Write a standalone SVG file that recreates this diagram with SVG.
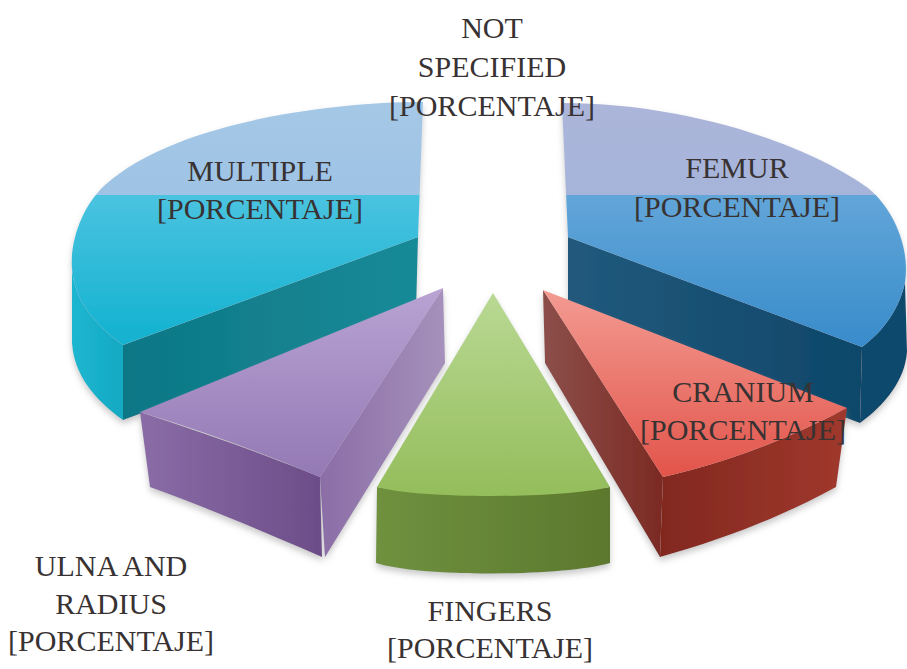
<svg xmlns="http://www.w3.org/2000/svg" width="907" height="669" viewBox="0 0 907 669">
<style>
.lbl{font-family:"Liberation Serif","Times New Roman",serif;font-size:30px;fill:#383232;text-anchor:middle}
</style>
<defs>
<filter id="sh" x="-10%" y="-10%" width="120%" height="130%">
<feDropShadow dx="0" dy="4" stdDeviation="3" flood-color="#8a8a8a" flood-opacity="0.45"/>
</filter>
<linearGradient id="gMultTop" gradientUnits="userSpaceOnUse" x1="0" y1="100" x2="0" y2="350">
<stop offset="0" stop-color="#a6c8e7"/><stop offset="0.38" stop-color="#9ec3e4"/>
<stop offset="0.38" stop-color="#4ac3e0"/><stop offset="1" stop-color="#0fb1cf"/>
</linearGradient>
<linearGradient id="gMultSide" x1="0" y1="0" x2="1" y2="0">
<stop offset="0" stop-color="#1eb6d0"/><stop offset="1" stop-color="#14a9c3"/>
</linearGradient>
<linearGradient id="gMultFront" x1="0" y1="0" x2="1" y2="0">
<stop offset="0" stop-color="#0e7786"/><stop offset="1" stop-color="#178a98"/>
</linearGradient>
<linearGradient id="gFemTop" gradientUnits="userSpaceOnUse" x1="0" y1="100" x2="0" y2="350">
<stop offset="0" stop-color="#acb5da"/><stop offset="0.38" stop-color="#a6b4da"/>
<stop offset="0.38" stop-color="#62a6d9"/><stop offset="1" stop-color="#378bca"/>
</linearGradient>
<linearGradient id="gFemFront" x1="0" y1="0" x2="1" y2="0">
<stop offset="0" stop-color="#21597c"/><stop offset="1" stop-color="#0e4769"/>
</linearGradient>
<linearGradient id="gCraTop" x1="0" y1="0" x2="0" y2="1">
<stop offset="0" stop-color="#f39b92"/><stop offset="1" stop-color="#e2544a"/>
</linearGradient>
<linearGradient id="gCraIn" x1="0" y1="0" x2="1" y2="0">
<stop offset="0" stop-color="#8c4f4a"/><stop offset="1" stop-color="#7b2a23"/>
</linearGradient>
<linearGradient id="gCraFront" x1="0" y1="0" x2="1" y2="0">
<stop offset="0" stop-color="#82281f"/><stop offset="1" stop-color="#a0382d"/>
</linearGradient>
<linearGradient id="gFinTop" x1="0" y1="0" x2="0" y2="1">
<stop offset="0" stop-color="#b9d994"/><stop offset="1" stop-color="#94bd5b"/>
</linearGradient>
<linearGradient id="gFinFront" x1="0" y1="0" x2="1" y2="0">
<stop offset="0" stop-color="#6f913f"/><stop offset="1" stop-color="#5c782d"/>
</linearGradient>
<linearGradient id="gUlnTop" x1="0" y1="0" x2="0" y2="1">
<stop offset="0" stop-color="#b8a3d3"/><stop offset="1" stop-color="#9479b4"/>
</linearGradient>
<linearGradient id="gUlnIn" x1="0" y1="0" x2="1" y2="0">
<stop offset="0" stop-color="#8b6da6"/><stop offset="1" stop-color="#a591bb"/>
</linearGradient>
<linearGradient id="gUlnFront" x1="0" y1="0" x2="1" y2="0">
<stop offset="0" stop-color="#8a6ca6"/><stop offset="1" stop-color="#6c4d88"/>
</linearGradient>
</defs>

<g id="multiple">
<g filter="url(#sh)">
<path d="M72,268 C74,300 95,325 123,345 L123,420 C95,400 74,375 72,343 Z" fill="url(#gMultSide)"/>
<path d="M123,345 L418,237 L416,312 L123,420 Z" fill="url(#gMultFront)"/>
<path d="M423,102 C330,102 175,122 105,185 C80,208 70,245 72,268 C74,300 95,325 123,345 L418,237 Z" fill="url(#gMultTop)"/>
</g>
<text class="lbl" x="260" y="181">MULTIPLE</text>
<text class="lbl" x="260" y="219">[PORCENTAJE]</text>
</g>

<g id="femur">
<g filter="url(#sh)">
<path d="M905,282 C900,307 885,330 862,347 L860,423 C885,405 905,380 907,352 Z" fill="#0f4a6c"/>
<path d="M568,237 L862,347 L860,423 L568,313 Z" fill="url(#gFemFront)"/>
<path d="M562,103 C680,103 800,140 868,188 C895,210 910,250 905,282 C900,307 885,330 862,347 L568,237 Z" fill="url(#gFemTop)"/>
</g>
<text class="lbl" x="737" y="178">FEMUR</text>
<text class="lbl" x="737" y="217">[PORCENTAJE]</text>
</g>

<g id="not-specified">
<text class="lbl" x="492" y="38">NOT</text>
<text class="lbl" x="492" y="77">SPECIFIED</text>
<text class="lbl" x="492" y="116">[PORCENTAJE]</text>
</g>

<g id="ulna-radius">
<g filter="url(#sh)">
<path d="M443,288 L445,363 L325,557 L320,477 Z" fill="url(#gUlnIn)"/>
<path d="M140,412 C200,432 260,452 320,477 L322,557 C260,530 200,505 150,487 Z" fill="url(#gUlnFront)"/>
<path d="M443,288 L140,412 C200,430 260,452 320,477 Z" fill="url(#gUlnTop)"/>
</g>
<text class="lbl" x="111" y="576">ULNA AND</text>
<text class="lbl" x="111" y="614">RADIUS</text>
<text class="lbl" x="111" y="651">[PORCENTAJE]</text>
</g>

<g id="fingers">
<g filter="url(#sh)">
<path d="M377,487 C420,495 560,495 610,487 L610,563 C560,577 420,577 376,563 Z" fill="url(#gFinFront)"/>
<path d="M493,293 L377,487 C420,499 560,499 610,487 Z" fill="url(#gFinTop)"/>
</g>
<text class="lbl" x="490" y="621">FINGERS</text>
<text class="lbl" x="490" y="658">[PORCENTAJE]</text>
</g>

<g id="cranium">
<g filter="url(#sh)">
<path d="M543,290 L663,477 L660,557 L545,363 Z" fill="url(#gCraIn)"/>
<path d="M663,477 C730,462 790,438 847,408 L836,487 C780,518 720,540 660,557 Z" fill="url(#gCraFront)"/>
<path d="M543,290 L847,408 C790,438 730,462 663,477 Z" fill="url(#gCraTop)"/>
</g>
<text class="lbl" x="743" y="402">CRANIUM</text>
<text class="lbl" x="743" y="440">[PORCENTAJE]</text>
</g>
</svg>
